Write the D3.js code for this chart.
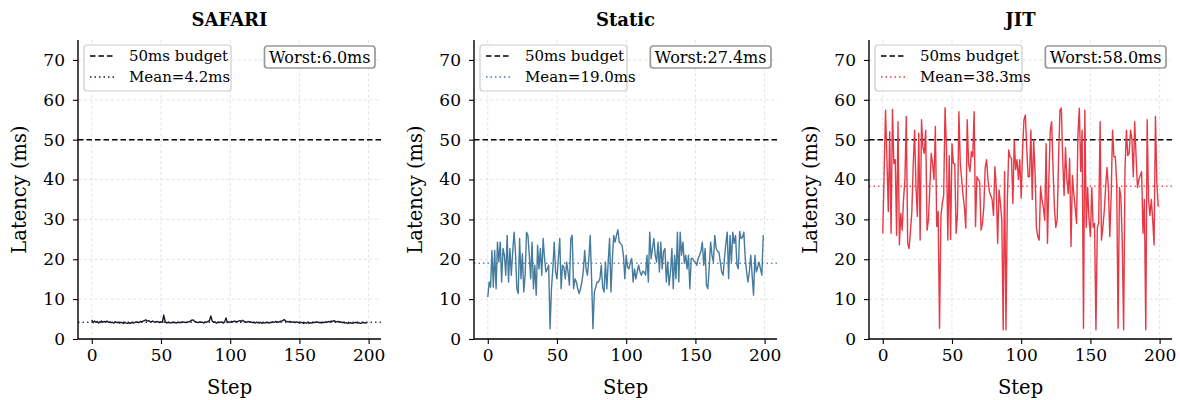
<!DOCTYPE html>
<html>
<head>
<meta charset="utf-8">
<script src="https://cdn.jsdelivr.net/npm/d3@7"></script>
<style>
  body { margin: 0; background: #fff; }
  text { font-family: "DejaVu Serif", serif; }
</style>
</head>
<body>
<svg id="chart"></svg>
<script>
// latency per step
var safari = [
  4.8, 4.1, 4.5, 4.2, 4.4, 4.0, 4.3, 4.5, 4.2, 4.4,
  4.3, 4.5, 4.2, 4.3, 4.1, 4.2, 4.0, 4.3, 4.1, 4.2,
  4.0, 4.2, 4.1, 3.9, 4.2, 4.0, 3.9, 4.1, 3.9, 4.2,
  4.0, 4.1, 4.3, 4.2, 4.1, 4.4, 4.3, 4.5, 4.6, 4.8,
  4.5, 4.6, 4.4, 4.3, 4.5, 4.3, 4.2, 4.4, 4.3, 4.1,
  4.3, 4.2, 6.0, 4.4, 4.0, 4.2, 4.1, 4.0, 4.2, 4.1,
  4.2, 4.0, 4.2, 4.1, 4.2, 4.1, 4.3, 4.2, 4.1, 4.2,
  4.3, 4.4, 4.7, 4.8, 4.5, 4.3, 4.2, 4.1, 4.3, 4.2,
  4.2, 4.0, 4.3, 4.2, 4.4, 4.6, 5.8, 4.5, 4.2, 4.3,
  4.0, 4.2, 4.1, 4.3, 4.2, 4.0, 4.3, 5.3, 4.1, 4.3,
  4.2, 4.4, 4.3, 4.5, 4.4, 4.3, 4.5, 4.6, 4.4, 4.7,
  4.4, 4.3, 4.2, 4.4, 4.2, 4.3, 4.1, 4.2, 4.0, 4.2,
  4.1, 4.0, 4.2, 3.9, 4.1, 4.0, 4.2, 4.1, 4.0, 4.2,
  4.1, 4.3, 4.2, 4.4, 4.3, 4.2, 4.4, 4.5, 4.6, 4.9,
  4.5, 4.4, 4.3, 4.4, 4.2, 4.3, 4.2, 4.1, 4.3, 4.2,
  4.0, 4.2, 4.1, 3.9, 4.1, 4.0, 4.2, 3.9, 4.1, 4.0,
  4.2, 4.1, 4.3, 4.2, 4.1, 4.2, 4.0, 4.2, 4.1, 4.3,
  4.2, 4.4, 4.3, 4.5, 4.4, 4.6, 4.4, 4.3, 4.4, 4.2,
  4.3, 4.1, 4.2, 4.0, 4.1, 3.9, 4.0, 4.1, 3.9, 4.0,
  4.1, 4.2, 4.0, 4.1, 3.9, 4.0, 4.2, 4.0, 4.1, 4.0
];
var staticLat = [
  10.5, 14.3, 13, 22.2, 13, 22.2, 12.6, 24.3, 19.3, 24.3,
  14.3, 22.7, 21, 16, 26, 14.3, 22.7, 16, 21.8, 26.8,
  21.8, 12.6, 11.4, 25.2, 15.1, 21.4, 11.8, 16, 26.8, 26,
  21, 15.1, 24.3, 12.6, 18.5, 11, 23.5, 17.6, 22.7, 16,
  25.2, 20.2, 16.8, 17.6, 18.5, 2.6, 12.6, 17.6, 24.3, 16.8,
  15.1, 20.2, 25.2, 12.6, 18.5, 18, 15.1, 19.3, 16.8, 13.5,
  25.2, 26, 12.6, 15.1, 14.3, 12.6, 11.4, 12.6, 14.3, 17,
  22.2, 17.6, 16, 20, 26, 15.1, 2.6, 11.8, 13, 14.3,
  14.3, 15.1, 18.5, 13, 11.8, 19.3, 12.6, 19.3, 25.2, 11.8,
  20, 26, 24.3, 26, 27.4, 24.3, 24, 23.5, 21, 15.1,
  21, 18, 17.6, 19.3, 20.2, 14.3, 17.6, 15.1, 17, 18.5,
  16.8, 16, 17, 16.8, 16, 21, 14.3, 26.8, 20.2, 22.7,
  25.2, 21, 19.3, 24.3, 16.8, 24.3, 17.6, 22, 22.7, 14.3,
  19.3, 13.5, 16.8, 22.7, 12.6, 21, 15.1, 26.8, 14.3, 26.8,
  21, 24.3, 19, 21, 17.6, 21, 12.6, 20.2, 20.2, 19.5,
  19.3, 18.5, 20.2, 21, 22, 24.3, 18.5, 22.7, 13.5, 12.6,
  18, 24.3, 21, 19.3, 26, 22.7, 22, 21.8, 19.3, 16.8,
  16, 20.2, 24, 26.8, 15.1, 26, 19.3, 26.8, 24, 26,
  18.5, 17.6, 27, 25.2, 25.5, 26.8, 20.2, 16.8, 14.3, 17,
  21, 16, 11, 21, 16.8, 18, 19.3, 17.6, 16, 26
];
var jit = [
  26.5, 42, 57.4, 45, 32, 52, 26.5, 57.6, 44, 45,
  26, 54.5, 23.6, 31.5, 27.3, 35, 40, 55.8, 24, 22.7,
  27, 32, 43.6, 52.4, 38, 30.7, 51.6, 24.8, 55, 48,
  46.6, 52.4, 27.3, 29.8, 38, 46.6, 44, 40, 53.3, 28.2,
  32, 2.7, 30.7, 34, 36, 58.0, 48, 24.8, 46, 25,
  49, 44, 44, 26.5, 31.5, 57, 44, 40, 36, 33,
  27.8, 55, 44, 42, 47, 45.7, 57, 28.2, 40.7, 40,
  39.5, 27.3, 29, 33, 43, 45, 40, 37, 36, 35,
  31, 43.2, 38, 24, 37.4, 34, 29.8, 2.3, 42, 2.3,
  35, 47.4, 45.7, 45.3, 34, 50, 42.5, 45, 40, 45,
  35.3, 47.4, 55, 56.2, 48, 40.7, 40.7, 52.4, 35, 50,
  42, 28, 25.7, 24.8, 38, 35, 33, 29.8, 49, 24,
  40, 52.4, 54.5, 43, 33, 28, 30, 45, 57.4, 57.9,
  45, 36, 48, 40, 36.5, 45.3, 23.2, 41, 36.5, 33,
  29, 51.6, 57.9, 42, 52.4, 2.7, 57.4, 28, 38, 30,
  25.7, 38, 28, 29, 2.3, 28, 29, 54.5, 24.8, 28,
  32, 38, 43, 38, 25.7, 36, 52.4, 45.7, 45.7, 39,
  2.7, 38, 35.7, 24.4, 2.3, 42.5, 52.4, 46, 46.6, 52.4,
  50, 40.7, 54.5, 45.7, 38, 40, 41, 42, 26.5, 35,
  2.3, 55, 35, 31, 35, 30, 23.6, 55.8, 39, 33.2
];

var panelNames = ["SAFARI", "Static", "JIT"];
var panelSeries = [safari, staticLat, jit];
var panelColors = ["#1a1a2e", "#457b9d", "#e63946"];
var meanVals = [4.2, 19.0, 38.3];
var worstVals = [6.0, 27.4, 58.0];
var budget = 50;
var yTicks = [0, 10, 20, 30, 40, 50, 60, 70];
var xTicks = [0, 50, 100, 150, 200];

var W = 1180, H = 400;

var svg = d3.select("#chart")
    .attr("width", W)
    .attr("height", H);

var lefts = [78, 474, 869];
var pw = 303;
var yTop = 40, yBottom = 339;

panelNames.forEach(function(name, i) {
  var data = panelSeries[i];
  var col = panelColors[i];
  var x0 = lefts[i], x1 = lefts[i] + pw;

  var x = d3.scaleLinear().domain([-9.95, 208.95]).range([x0, x1]);
  var y = d3.scaleLinear().domain([0, 75]).range([yBottom, yTop]);

  var g = svg.append("g");

  // grid
  g.selectAll(".gx").data(xTicks).enter().append("line")
      .attr("x1", function(d) { return x(d); })
      .attr("x2", function(d) { return x(d); })
      .attr("y1", yTop).attr("y2", yBottom)
      .attr("stroke", "#dcdcdc").attr("stroke-width", 0.8)
      .attr("stroke-dasharray", "3,2.5");
  g.selectAll(".gy").data(yTicks).enter().append("line")
      .attr("x1", x0).attr("x2", x1)
      .attr("y1", function(d) { return y(d); })
      .attr("y2", function(d) { return y(d); })
      .attr("stroke", "#dcdcdc").attr("stroke-width", 0.8)
      .attr("stroke-dasharray", "3,2.5");

  // budget and mean
  g.append("line")
      .attr("x1", x0).attr("x2", x1)
      .attr("y1", y(budget)).attr("y2", y(budget))
      .attr("stroke", "#000").attr("stroke-width", 1.5)
      .attr("stroke-dasharray", "5.5,3");
  g.append("line")
      .attr("x1", x0).attr("x2", x1)
      .attr("y1", y(meanVals[i])).attr("y2", y(meanVals[i]))
      .attr("stroke", col).attr("stroke-width", 1.6).attr("opacity", 0.85)
      .attr("stroke-dasharray", "1.5,3");

  var line = d3.line()
      .x(function(d, k) { return x(k); })
      .y(function(d) { return y(d); });
  g.append("path")
      .datum(data)
      .attr("d", line)
      .attr("fill", "none")
      .attr("stroke", col)
      .attr("stroke-width", 1.4)
      .attr("stroke-linejoin", "round");

  // axes
  var xAxis = d3.axisBottom(x).tickValues(xTicks).tickSize(5).tickPadding(5);
  var yAxis = d3.axisLeft(y).tickValues(yTicks).tickSize(5).tickPadding(8);
  var gx = g.append("g").attr("transform", "translate(0," + yBottom + ")").call(xAxis);
  var gy = g.append("g").attr("transform", "translate(" + x0 + ",0)").call(yAxis);
  [gx, gy].forEach(function(a) {
    a.select(".domain").attr("stroke", "#000").attr("stroke-width", 1.4);
    a.selectAll(".tick line").attr("stroke", "#000").attr("stroke-width", 1.1);
    a.selectAll(".tick text")
        .attr("fill", "#000")
        .style("font-family", '"DejaVu Serif", serif')
        .style("font-size", "17px");
  });
  gx.select(".domain").attr("d", "M" + x0 + ",0H" + x1);
  gy.select(".domain").attr("d", "M0," + yTop + "V" + yBottom);

  // labels
  var cx = (x0 + x1) / 2;
  g.append("text").attr("x", cx).attr("y", 26)
      .attr("text-anchor", "middle")
      .style("font-size", "18px").style("font-weight", "bold")
      .text(name);
  g.append("text").attr("x", cx).attr("y", 394)
      .attr("text-anchor", "middle")
      .style("font-size", "19.5px")
      .text("Step");
  g.append("text")
      .attr("transform", "translate(" + (x0 - 52) + "," + ((yTop + yBottom) / 2) + ") rotate(-90)")
      .attr("text-anchor", "middle")
      .style("font-size", "19.5px")
      .text("Latency (ms)");

  // legend
  var lx = x0 + 6, ly = 45;
  g.append("rect").attr("x", lx).attr("y", ly)
      .attr("width", 147).attr("height", 46)
      .attr("rx", 3).attr("fill", "#fff").attr("fill-opacity", 0.8)
      .attr("stroke", "#ccc").attr("stroke-width", 1.2);
  g.append("line").attr("x1", lx + 6).attr("x2", lx + 30)
      .attr("y1", ly + 11).attr("y2", ly + 11)
      .attr("stroke", "#000").attr("stroke-width", 1.5).attr("stroke-dasharray", "5.5,3");
  g.append("line").attr("x1", lx + 6).attr("x2", lx + 30)
      .attr("y1", ly + 32).attr("y2", ly + 32)
      .attr("stroke", col).attr("stroke-width", 1.6).attr("stroke-dasharray", "1.5,3");
  var t1 = g.append("text").attr("x", lx + 45).attr("y", ly + 16)
      .style("font-size", "15px").text("50ms budget");
  g.append("text").attr("x", lx + 45).attr("y", ly + 37)
      .style("font-size", "15px").text("Mean=" + meanVals[i].toFixed(1) + "ms");

  // worst box, sized to its text
  var wt = g.append("text")
      .attr("text-anchor", "middle")
      .attr("y", 62.5)
      .style("font-size", "16px")
      .text("Worst:" + worstVals[i].toFixed(1) + "ms");
  var tw = wt.node().getComputedTextLength();
  var bw = tw + 9, bx = x1 - 6 - bw;
  wt.attr("x", bx + bw / 2);
  g.insert("rect", function() { return wt.node(); })
      .attr("x", bx).attr("y", 46)
      .attr("width", bw).attr("height", 22)
      .attr("rx", 3).attr("fill", "#fff")
      .attr("stroke", "#999").attr("stroke-width", 1.7);
});
</script>
</body>
</html>
